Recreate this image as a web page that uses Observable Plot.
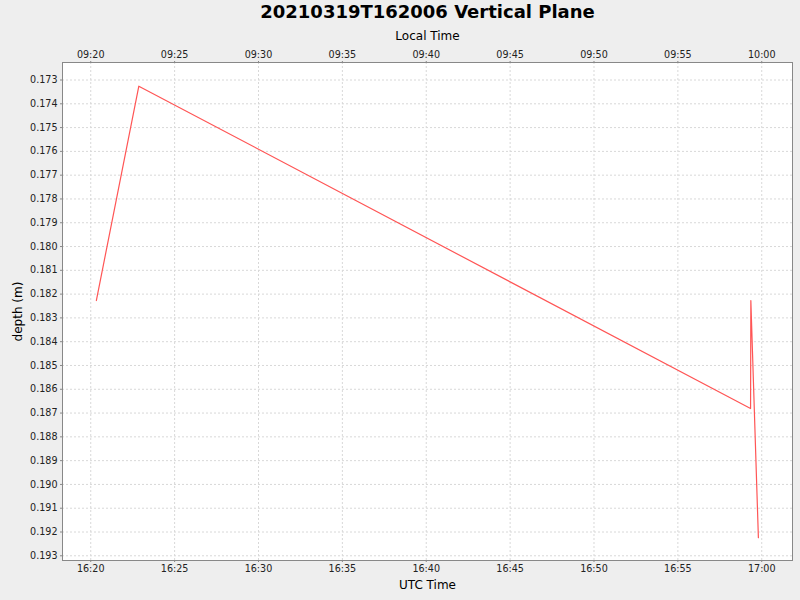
<!DOCTYPE html>
<html><head><meta charset="utf-8">
<script src="https://cdn.jsdelivr.net/npm/d3@7"></script>
<script src="https://cdn.jsdelivr.net/npm/@observablehq/plot@0.6"></script>
<style>
html,body{margin:0;padding:0;background:#eeeeee;}
</style></head><body><div id="chart"></div>
<script>
const title = "20210319T162006 Vertical Plane";
const topAxisLabel = "Local Time";
const bottomAxisLabel = "UTC Time";
const yAxisLabel = "depth (m)";
const utcTimes = ["2021-03-19T16:20:20Z", "2021-03-19T16:22:52Z", "2021-03-19T16:59:20Z", "2021-03-19T16:59:21Z", "2021-03-19T16:59:48Z"];
const depths = [0.18227, 0.17326, 0.18681, 0.18227, 0.19224];
const xTickLabels = ["16:20","16:25","16:30","16:35","16:40","16:45","16:50","16:55","17:00"];
const yTicks = [0.173,0.174,0.175,0.176,0.177,0.178,0.179,0.180,0.181,0.182,0.183,0.184,0.185,0.186,0.187,0.188,0.189,0.190,0.191,0.192,0.193];
const localOffsetHours = -7;
const xDomain = ["2021-03-19T16:18:19Z", "2021-03-19T17:01:50Z"];
const yDomain = [0.193198, 0.172264];

const data = utcTimes.map((t, i) => ({time: new Date(t), depth: depths[i]}));
const xTicks = xTickLabels.map(s => new Date("2021-03-19T" + s + ":00Z"));
const fmt = d3.utcFormat("%H:%M");
const gridStyle = {stroke: "#d8d8d8", strokeOpacity: 1, strokeDasharray: "2,2"};

const chart = Plot.plot({
  width: 800, height: 600,
  marginTop: 62, marginLeft: 62, marginRight: 8, marginBottom: 40,
  style: {background: "#eeeeee", fontFamily: "DejaVu Sans", fontSize: "9.6px", color: "#222"},
  x: {type: "utc", domain: xDomain.map(s => new Date(s)), axis: null},
  y: {domain: yDomain, axis: null},
  marks: [
    Plot.frame({fill: "white", stroke: "none"}),
    Plot.gridX(xTicks, gridStyle),
    Plot.gridY(yTicks, gridStyle),
    Plot.axisX(xTicks, {anchor: "bottom", tickSize: 2, tickPadding: 3, stroke: "#888", tickFormat: fmt, label: null}),
    Plot.axisX(xTicks, {anchor: "top", tickSize: 2, tickPadding: 3, stroke: "#888", tickFormat: d => fmt(new Date(+d + localOffsetHours * 3600e3)), label: null}),
    Plot.axisY(yTicks, {anchor: "left", tickSize: 2, tickPadding: 3, stroke: "#888", tickFormat: d3.format(".3f"), label: null}),
    Plot.line(data, {x: "time", y: "depth", stroke: "#ff5555", strokeWidth: 1.2}),
    Plot.frame({stroke: "#888"}),
    Plot.text([title], {text: d => d, frameAnchor: "top", lineAnchor: "middle", textAnchor: "middle", dy: -50, fontSize: 18, fontWeight: "bold", fill: "#000"}),
    Plot.text([topAxisLabel], {text: d => d, frameAnchor: "top", lineAnchor: "middle", textAnchor: "middle", dy: -26, fontSize: 12, fill: "#000"}),
    Plot.text([bottomAxisLabel], {text: d => d, frameAnchor: "bottom", lineAnchor: "middle", textAnchor: "middle", dy: 25, fontSize: 12, fill: "#000"}),
    Plot.text([yAxisLabel], {text: d => d, frameAnchor: "left", lineAnchor: "middle", textAnchor: "middle", dx: -44, rotate: -90, fontSize: 12, fill: "#000"})
  ]
});
document.getElementById("chart").appendChild(chart);
</script></body></html>
